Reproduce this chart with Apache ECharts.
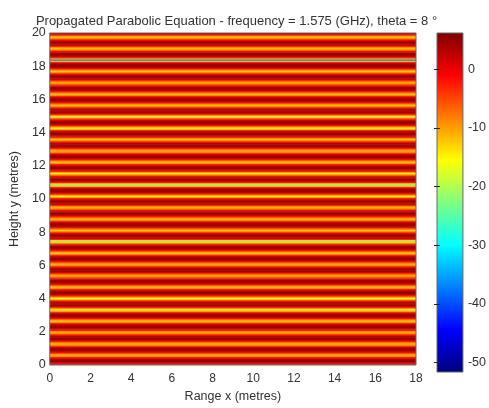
<!DOCTYPE html>
<html>
<head>
<meta charset="utf-8">
<title>Propagated Parabolic Equation</title>
<script src="https://cdn.jsdelivr.net/npm/echarts@6.0.0/dist/echarts.min.js"></script>
<style>
  html, body { margin: 0; padding: 0; background: #ffffff; }
  #chart { width: 489px; height: 408px; }
</style>
</head>
<body>
<div id="chart"></div>
<script>
// Field level (dB) for each horizontal row of the height grid, from y = 0 upwards.
// The field is uniform along the range axis, so each row spans the full range.
const rowStep = 0.0684;          // metres per row
const rangeX = [0, 18];           // range extent (metres)
const heightY = [0, 20];          // height extent (metres)
const rowLevels = [
  -3, 1, 4, 5.5, 4, 1, -3, -9,
  -11, -9, -3, 1, 4, 5.5, 4, 1, -3, -9,
  -12, -9, -3, 1, 4, 5.5, 4, 1, -3, -9,
  -11, -9, -3, 1, 4, 5.5, 4, 1, -3, -9,
  -12, -10, -3, 1, 4, 5.5, 4, 1, -3, -11,
  -18, -11, -3, 1, 4, 5.5, 4, 1, -3, -11,
  -17, -11, -3, 1, 4, 5.5, 4, 1, -3, -9,
  -12, -9, -3, 1, 4, 5.5, 4, 1, -3, -9,
  -11, -9, -3, 1, 4, 5.5, 4, 1, -3, -9,
  -11, -9, -3, 1, 4, 5.5, 4, 1, -3, -9,
  -13, -9, -3, 1, 4, 5.5, 4, 1, -3, -13,
  -24, -13, -3, 1, 4, 5.5, 4, 1, -3, -9,
  -13, -9, -3, 1, 4, 5.5, 4, 1, -3, -9,
  -11, -9, -3, 1, 4, 5.5, 4, 1, -3, -9,
  -12, -9, -3, 1, 4, 5.5, 4, 1, -3, -10,
  -15, -10, -3, 1, 4, 5.5, 4, 1, -3, -13,
  -24, -13, -3, 1, 4, 5.5, 4, 1, -3, -10,
  -15, -10, -3, 1, 4, 5.5, 4, 1, -3, -9,
  -12, -9, -3, 1, 4, 5.5, 4, 1, -3, -9,
  -11, -9, -3, 1, 4, 5.5, 4, 1, -3, -9,
  -12, -9, -3, 1, 4, 5.5, 4, 1, -3, -11,
  -17, -11, -3, 1, 4, 5.5, 4, 1, -3, -11,
  -19, -11, -3, 1, 4, 5.5, 4, 1, -3, -9,
  -12, -9, -3, 1, 4, 5.5, 4, 1, -3, -9,
  -12, -9, -3, 1, 4, 5.5, 4, 1, -3, -9,
  -11, -9, -3, 1, 4, 5.5, 4, 1, -3, -9,
  -13, -10, -3, 1, 4, 5.5, 4, 1, -3, -13,
  -38, -13, -3, 1, 4, 5.5, 4, 1, -3, -9,
  -13, -9, -3, 1, 4, 5.5, 4, 1, -3, -9,
  -12, -9, -3, 1, 4
];
// Colour scale limits (dB)
const levelRange = [-51.6, 6.2];
// Tick values on the axes
const xTicks = [0, 2, 4, 6, 8, 10, 12, 14, 16, 18];
const yTicks = [0, 2, 4, 6, 8, 10, 12, 14, 16, 18, 20];
const barTicks = [-50, -40, -30, -20, -10, 0];

// Jet colour map, sampled every 1/8 of the range
const jet = ['#000080', '#0000ff', '#0080ff', '#00ffff', '#80ff80',
             '#ffff00', '#ff8000', '#ff0000', '#800000'];

const rows = rowLevels.map((v, i) => [rangeX[0], rangeX[1], i * rowStep, Math.min((i + 1) * rowStep, heightY[1]), v]);

const font = '"Liberation Sans", Arial, Helvetica, sans-serif';
const textColor = '#333333';

const chart = echarts.init(document.getElementById('chart'), null, { renderer: 'canvas' });

function clipRect(r, cs) {
  return echarts.graphic.clipRectByRect(r, { x: cs.x, y: cs.y, width: cs.width, height: cs.height });
}

chart.setOption({
  animation: false,
  backgroundColor: '#ffffff',
  title: {
    text: 'Propagated Parabolic Equation - frequency = 1.575 (GHz), theta = 8 °',
    left: 231.5,
    textAlign: 'center',
    top: 10,
    textStyle: { fontFamily: font, fontSize: 13, fontWeight: 'normal', color: textColor }
  },
  visualMap: {
    show: false,
    type: 'continuous',
    seriesIndex: 0,
    dimension: 4,
    min: levelRange[0],
    max: levelRange[1],
    inRange: { color: jet }
  },
  grid: [
    { left: 47, top: 33, width: 369, height: 339, show: true, borderColor: '#666666', borderWidth: 1, z: 10 },
    { left: 437, top: 33, width: 33, height: 339, show: true, borderColor: '#666666', borderWidth: 1, z: 10 }
  ],
  xAxis: [
    {
      gridIndex: 0, type: 'value', min: xTicks[0], max: xTicks[xTicks.length - 1], interval: 2,
      axisLine: { show: false }, axisTick: { show: false }, splitLine: { show: false },
      axisLabel: { fontFamily: font, fontSize: 12, color: textColor, margin: 8 },
      name: 'Range x (metres)', nameLocation: 'middle', nameGap: 25,
      nameTextStyle: { fontFamily: font, fontSize: 12.5, color: textColor }
    },
    {
      gridIndex: 1, type: 'value', min: 0, max: 1, show: false
    }
  ],
  yAxis: [
    {
      gridIndex: 0, type: 'value', min: yTicks[0], max: yTicks[yTicks.length - 1], interval: 2,
      axisLine: { show: false }, axisTick: { show: false }, splitLine: { show: false },
      axisLabel: { fontFamily: font, fontSize: 12.5, color: textColor, margin: 4 },
      name: 'Height y (metres)', nameLocation: 'middle', nameGap: 17,
      nameTextStyle: { fontFamily: font, fontSize: 12.5, color: textColor }
    },
    {
      gridIndex: 1, type: 'value', position: 'right', min: levelRange[0], max: levelRange[1],
      z: 12,
      axisLine: { show: false },
      axisTick: { show: true, inside: true, length: 3, lineStyle: { color: '#222222' },
                  customValues: barTicks },
      splitLine: { show: false },
      axisLabel: { fontFamily: font, fontSize: 12.5, color: textColor, margin: 5,
                   customValues: barTicks }
    },
    {
      gridIndex: 1, type: 'value', position: 'left', min: levelRange[0], max: levelRange[1],
      z: 12,
      axisLine: { show: false },
      axisTick: { show: true, inside: true, length: 3, lineStyle: { color: '#222222' },
                  customValues: barTicks },
      splitLine: { show: false },
      axisLabel: { show: false }
    }
  ],
  series: [
    {
      type: 'custom',
      xAxisIndex: 0, yAxisIndex: 0,
      encode: { x: [0, 1], y: [2, 3] },
      clip: true,
      data: rows,
      renderItem(params, api) {
        const p0 = api.coord([api.value(0), api.value(3)]);
        const p1 = api.coord([api.value(1), api.value(2)]);
        const r = clipRect({ x: p0[0], y: p0[1] - 0.5, width: p1[0] - p0[0], height: p1[1] - p0[1] + 0.5 },
                           params.coordSys);
        return r && { type: 'rect', shape: r, style: { fill: api.visual('color') } };
      }
    },
    {
      type: 'custom',
      xAxisIndex: 1, yAxisIndex: 1,
      encode: { y: [0, 1] },
      data: [[levelRange[0], levelRange[1]]],
      renderItem(params, api) {
        const p0 = api.coord([0, api.value(1)]);
        const p1 = api.coord([1, api.value(0)]);
        const stops = jet.map((c, i) => ({ offset: i / (jet.length - 1), color: c }));
        return {
          type: 'rect',
          shape: { x: p0[0], y: p0[1], width: p1[0] - p0[0], height: p1[1] - p0[1] },
          style: { fill: new echarts.graphic.LinearGradient(0, 1, 0, 0, stops) }
        };
      }
    }
  ]
});
</script>
</body>
</html>
